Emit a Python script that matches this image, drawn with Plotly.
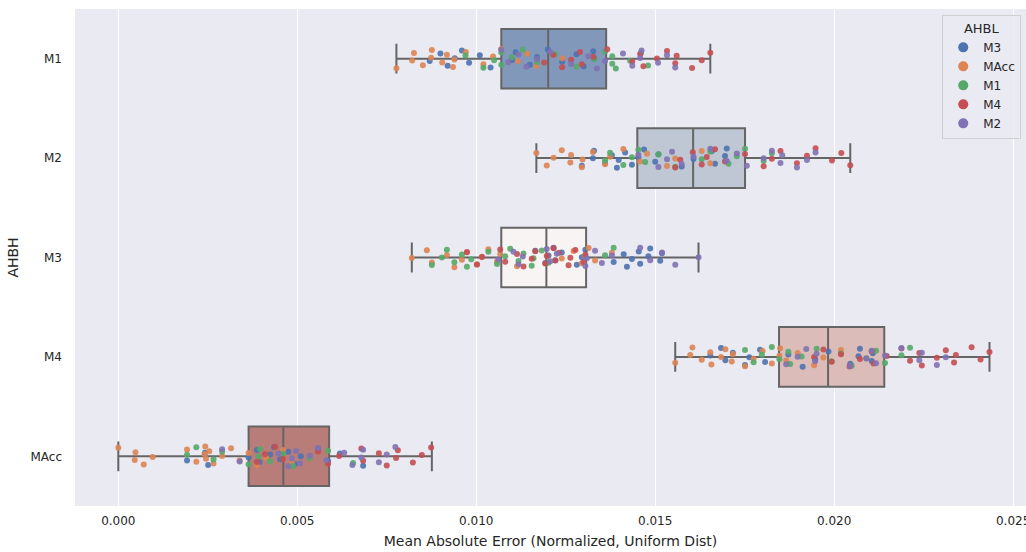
import plotly.graph_objects as go

# ---------------- data ----------------
categories = ["M1", "M2", "M3", "M4", "MAcc"]          # AHBH (y axis)
hue_levels = ["M3", "MAcc", "M1", "M4", "M2"]          # AHBL (legend)
hue_colors = ["#4c72b0", "#dd8452", "#55a868", "#c44e52", "#8172b3"]
box_fills = ["#8198bb", "#bfc6d4", "#f8f4f4", "#dbbcb9", "#b87c79"]

q1 = [0.01070, 0.01450, 0.01070, 0.01846, 0.00364]
median = [0.01201, 0.01606, 0.01196, 0.01983, 0.00461]
q3 = [0.01363, 0.01751, 0.01307, 0.02140, 0.00589]
lower_whisker = [0.00777, 0.01168, 0.00820, 0.01556, 0.00000]
upper_whisker = [0.01654, 0.02045, 0.01621, 0.02434, 0.00876]

# points: points[category][hue]
points = {
    "M1": {
        "M3": [0.0087, 0.0090, 0.0092, 0.0094, 0.0096, 0.0098, 0.0101, 0.0104, 0.0110, 0.0111,
               0.0115, 0.0117, 0.0120, 0.0124, 0.0128, 0.0130, 0.0133, 0.01327],
        "MAcc": [0.00777, 0.00821, 0.00826, 0.00851, 0.00874, 0.00876, 0.00905, 0.00918, 0.00935,
                 0.00939, 0.00971, 0.01020, 0.01047, 0.01070, 0.01117, 0.01142, 0.01168, 0.01240],
        "M1": [0.0097, 0.0102, 0.0105, 0.0107, 0.0107, 0.0110, 0.0113, 0.0117, 0.0122, 0.0128,
               0.0133, 0.0136, 0.0138, 0.0138, 0.0139, 0.0143, 0.0146, 0.0148],
        "M4": [0.01190, 0.01215, 0.01240, 0.01265, 0.01290, 0.01295, 0.01327, 0.01366, 0.01436,
               0.01458, 0.01467, 0.01505, 0.01533, 0.01556, 0.01560, 0.01603, 0.01630, 0.01654],
        "M2": [0.01070, 0.01090, 0.01118, 0.01140, 0.01170, 0.01207, 0.01265, 0.01313, 0.01337,
               0.01360, 0.01410, 0.01436, 0.01458, 0.01462, 0.01508, 0.01533, 0.01556],
    },
    "M2": {
        "M3": [0.01295, 0.01326, 0.01329, 0.01360, 0.01379, 0.01393, 0.01398, 0.01416, 0.01435,
               0.01453, 0.01469, 0.01500, 0.01509, 0.01574, 0.01607, 0.01658, 0.01667, 0.01695, 0.01700],
        "MAcc": [0.01168, 0.01197, 0.01216, 0.01239, 0.01263, 0.01265, 0.01295, 0.01297, 0.01326,
                 0.01360, 0.01374, 0.01411, 0.01458, 0.01477, 0.01533, 0.01556, 0.01630, 0.01654],
        "M1": [0.01360, 0.01374, 0.01411, 0.01435, 0.01453, 0.01472, 0.01509, 0.01556, 0.01630,
               0.01654, 0.01705, 0.01728, 0.01751, 0.01803, 0.01826],
        "M4": [0.01556, 0.01570, 0.01605, 0.01630, 0.01644, 0.01667, 0.01695, 0.01751, 0.01803,
               0.01826, 0.01850, 0.01896, 0.01924, 0.01948, 0.01994, 0.02020, 0.02045],
        "M2": [0.01453, 0.01509, 0.01533, 0.01547, 0.01574, 0.01607, 0.01654, 0.01700, 0.01728,
               0.01756, 0.01803, 0.01826, 0.01850, 0.01855, 0.01896, 0.01924, 0.01948],
    },
    "M3": {
        "M3": [0.01165, 0.01193, 0.01202, 0.01216, 0.01221, 0.01239, 0.01281, 0.01295, 0.01305,
               0.01384, 0.01412, 0.01421, 0.01435, 0.01454, 0.01458, 0.01481, 0.01486, 0.01514, 0.01519],
        "MAcc": [0.00820, 0.00862, 0.00876, 0.00918, 0.00939, 0.00960, 0.00974, 0.01002, 0.01016,
                 0.01034, 0.01058, 0.01067, 0.01114, 0.01239, 0.01272, 0.01295, 0.01304, 0.01314,
                 0.01332, 0.01379],
        "M1": [0.00876, 0.00904, 0.00918, 0.00939, 0.00960, 0.00974, 0.00986, 0.01034, 0.01058,
               0.01081, 0.01095, 0.01118, 0.01132, 0.01155, 0.01160, 0.01183, 0.01202, 0.01360, 0.01384],
        "M4": [0.00974, 0.01002, 0.01016, 0.01067, 0.01081, 0.01114, 0.01132, 0.01155, 0.01165,
               0.01193, 0.01197, 0.01216, 0.01221, 0.01230, 0.01258, 0.01263, 0.01277, 0.01300, 0.01305],
        "M2": [0.01062, 0.01104, 0.01118, 0.01130, 0.01197, 0.01207, 0.01225, 0.01305, 0.01309,
               0.01332, 0.01351, 0.01379, 0.01458, 0.01486, 0.01519, 0.01556, 0.01621],
    },
    "M4": {
        "M3": [0.01654, 0.01684, 0.01696, 0.01717, 0.01751, 0.01763, 0.01793, 0.01807, 0.01872,
               0.01912, 0.01947, 0.01984, 0.02045, 0.02068, 0.02072, 0.02105, 0.02108],
        "MAcc": [0.01556, 0.01598, 0.01604, 0.01630, 0.01654, 0.01657, 0.01684, 0.01696, 0.01714,
                 0.01717, 0.01751, 0.01775, 0.01800, 0.01826, 0.01847, 0.01849, 0.01866, 0.01898,
                 0.01944, 0.01970, 0.02019],
        "M1": [0.01751, 0.01775, 0.01798, 0.01826, 0.01847, 0.01872, 0.01877, 0.01909, 0.01951,
               0.01993, 0.02019, 0.02049, 0.02090, 0.02117, 0.02142, 0.02188, 0.02212],
        "M4": [0.01944, 0.01970, 0.01993, 0.02019, 0.02043, 0.02072, 0.02105, 0.02110, 0.02147,
               0.02188, 0.02212, 0.02238, 0.02245, 0.02287, 0.02312, 0.02335, 0.02340, 0.02384,
               0.02409, 0.02434],
        "M2": [0.01866, 0.01898, 0.01922, 0.01947, 0.01951, 0.02045, 0.02090, 0.02105, 0.02117,
               0.02142, 0.02188, 0.02238, 0.02245, 0.02287, 0.02312],
    },
    "MAcc": {
        "M3": [0.00192, 0.00242, 0.00251, 0.00364, 0.00387, 0.00394, 0.00424, 0.00435, 0.00452,
               0.00475, 0.00493, 0.00510, 0.00558, 0.00586, 0.00619, 0.00684],
        "MAcc": [0.00000, 0.00046, 0.00048, 0.00071, 0.00096, 0.00192, 0.00218, 0.00241, 0.00243,
                 0.00245, 0.00254, 0.00266, 0.00290, 0.00315, 0.00339, 0.00364, 0.00387, 0.00413,
                 0.00460, 0.00485],
        "M1": [0.00192, 0.00218, 0.00266, 0.00290, 0.00364, 0.00392, 0.00396, 0.00424, 0.00460,
               0.00488, 0.00535, 0.00586, 0.00656],
        "M4": [0.00387, 0.00410, 0.00438, 0.00460, 0.00558, 0.00586, 0.00617, 0.00679, 0.00684,
               0.00728, 0.00750, 0.00776, 0.00781, 0.00823, 0.00848, 0.00874],
        "M2": [0.00290, 0.00339, 0.00448, 0.00475, 0.00485, 0.00497, 0.00508, 0.00535, 0.00558,
               0.00581, 0.00631, 0.00654, 0.00679, 0.00684, 0.00728, 0.00750, 0.00774],
    },
}

x_ticks = [0.000, 0.005, 0.010, 0.015, 0.020, 0.025]
x_tick_labels = ["0.000", "0.005", "0.010", "0.015", "0.020", "0.025"]

# ---------------- figure ----------------
fig = go.Figure()
LINE = "#656565"

for i, cat in enumerate(categories):
    fig.add_trace(go.Box(
        y=[i], orientation="h",
        q1=[q1[i]], median=[median[i]], q3=[q3[i]],
        lowerfence=[lower_whisker[i]], upperfence=[upper_whisker[i]],
        width=0.6, whiskerwidth=0.5,
        fillcolor=box_fills[i],
        line=dict(color=LINE, width=2),
        boxpoints=False, showlegend=False, hoverinfo="skip",
    ))


def jitter(n, k):
    # deterministic, evenly spread offsets (low-discrepancy sequence) in [-0.1, 0.1]
    return [((((j + 1) * 0.6180339887 + k * 0.2718) % 1.0) - 0.5) * 0.2 for j in range(n)]


for h, hue in enumerate(hue_levels):
    for i, cat in enumerate(categories):
        xs = points[cat][hue]
        offs = jitter(len(xs), h * 5 + i)
        fig.add_trace(go.Scatter(
            x=xs, y=[i + o for o in offs], mode="markers",
            marker=dict(color=hue_colors[h], size=6, opacity=0.9, line=dict(width=0)),
            showlegend=False, hoverinfo="x",
        ))
    # legend entry
    fig.add_trace(go.Scatter(
        x=[None], y=[None], mode="markers", name=hue,
        marker=dict(color=hue_colors[h], size=10),
        showlegend=True,
    ))

fig.update_layout(
    width=1026, height=552,
    margin=dict(l=75, r=0, t=9, b=46, autoexpand=False),
    paper_bgcolor="white", plot_bgcolor="#eaeaf2",
    font=dict(family="DejaVu Sans", size=12, color="#262626"),
    legend=dict(
        title=dict(text="AHBL", side="top center", font=dict(size=13)),
        x=0.995, y=0.988, xanchor="right", yanchor="top",
        bgcolor="rgba(234,234,242,0.85)", bordercolor="#d0d0d0", borderwidth=1,
        font=dict(size=12), itemsizing="trace", tracegroupgap=0,
    ),
    showlegend=True,
)
fig.update_xaxes(
    range=[-0.00121, 0.02536],
    tickvals=x_ticks, ticktext=x_tick_labels,
    showgrid=True, gridcolor="white", gridwidth=1.2, zeroline=False,
    showline=False, ticks="", ticklabelstandoff=6, ticklabeloverflow="allow",
    title=dict(text="Mean Absolute Error (Normalized, Uniform Dist)", standoff=9),
    automargin=False,
)
fig.update_yaxes(
    range=[4.5, -0.5],
    tickvals=list(range(len(categories))), ticktext=categories,
    showgrid=False, zeroline=False, showline=False, ticks="",
    ticklabelstandoff=12,
    title=dict(text="AHBH", standoff=8),
    automargin=False,
)

fig.write_html(
    "out.html",
    config={"displayModeBar": False},
    post_script=(
        "document.documentElement.style.overflow='hidden';"
        "document.body.style.margin='0';document.body.style.overflow='hidden';"
    ),
)
